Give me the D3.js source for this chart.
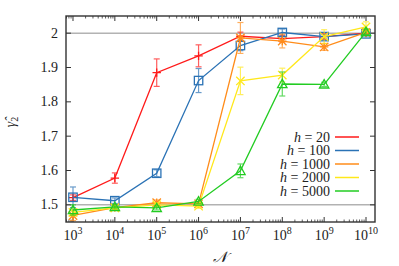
<!DOCTYPE html>
<html>
<head>
<meta charset="utf-8">
<script src="https://cdn.jsdelivr.net/npm/d3@7"></script>
<style>
  body { margin: 0; background: #fff; }
  text { font-family: "Liberation Serif", "DejaVu Serif", serif; fill: #222; }
</style>
</head>
<body>
<div id="chart"></div>
<script>
// data
const exponents = [3, 4, 5, 6, 7, 8, 9, 10]
const hLabels = ["20", "100", "1000", "2000", "5000"]
const h20 = [1.521, 1.578, 1.885, 1.934, 1.991, 1.984, 1.99, 2.0]
const h20err = [0.008, 0.015, 0.04, 0.032, 0.012, 0.01, 0.008, 0.006]
const h100 = [1.522, 1.512, 1.592, 1.862, 1.964, 2.002, 1.99, 1.998]
const h100err = [0.03, 0.008, 0.01, 0.035, 0.015, 0.01, 0.006, 0.006]
const h1000 = [1.469, 1.492, 1.506, 1.503, 1.986, 1.977, 1.96, 2.002]
const h1000err = [0.015, 0.008, 0.008, 0.006, 0.045, 0.02, 0.01, 0.008]
const h2000 = [1.478, 1.491, 1.5, 1.496, 1.861, 1.878, 1.99, 2.018]
const h2000err = [0.01, 0.006, 0.006, 0.006, 0.04, 0.02, 0.02, 0.015]
const h5000 = [1.485, 1.494, 1.491, 1.51, 1.599, 1.852, 1.851, 2.004]
const h5000err = [0.015, 0.006, 0.006, 0.006, 0.02, 0.035, 0.006, 0.008]
const yTicks = [1.5, 1.6, 1.7, 1.8, 1.9, 2]

const colors = ["#ff1a1a", "#2a72b5", "#ff8c1a", "#ffe81a", "#22cc22"]
const markers = ["plus", "square", "star", "cross", "triangle"]
const seriesVals = [h20, h100, h1000, h2000, h5000]
const seriesErr = [h20err, h100err, h1000err, h2000err, h5000err]

const w = 399, h = 266
const margin = {top: 16, right: 24, bottom: 44, left: 66}
const innerW = w - margin.left - margin.right
const innerH = h - margin.top - margin.bottom

const svg = d3.select("#chart").append("svg")
  .attr("width", w).attr("height", h)
const g = svg.append("g")
  .attr("transform", `translate(${margin.left},${margin.top})`)

const x = d3.scaleLog()
  .domain([Math.pow(10, 2.833), Math.pow(10, 10.215)])
  .range([0, innerW])
const y = d3.scaleLinear()
  .domain([1.45, 2.05])
  .range([innerH, 0])

// reference lines
g.selectAll(".ref").data([1.5, 2]).enter().append("line")
  .attr("x1", 0).attr("x2", innerW)
  .attr("y1", d => y(d)).attr("y2", d => y(d))
  .attr("stroke", "#8c8c8c").attr("stroke-width", 1)

// ticks, inward, on all sides
const majors = exponents.map(e => Math.pow(10, e))
const minors = []
for (let e = 2; e <= 10; e++) {
  for (let m = 2; m <= 9; m++) {
    const v = m * Math.pow(10, e)
    if (v > x.domain()[0] && v < x.domain()[1]) minors.push(v)
  }
}
const tickColor = "#333"
function vTicks(vals, len, width) {
  ;[[innerH, -1], [0, 1]].forEach(([yy, dir]) => {
    g.append("g").selectAll("line").data(vals).enter().append("line")
      .attr("x1", d => x(d)).attr("x2", d => x(d))
      .attr("y1", yy).attr("y2", yy + dir * len)
      .attr("stroke", tickColor).attr("stroke-width", width)
  })
}
vTicks(majors, 5, 1)
vTicks(minors, 2.5, 0.8)
;[[0, 1], [innerW, -1]].forEach(([xx, dir]) => {
  g.append("g").selectAll("line").data(yTicks).enter().append("line")
    .attr("x1", xx).attr("x2", xx + dir * 5)
    .attr("y1", d => y(d)).attr("y2", d => y(d))
    .attr("stroke", tickColor).attr("stroke-width", 1)
})

// tick labels
const xl = g.append("g").selectAll("text").data(exponents).enter().append("text")
  .attr("x", d => x(Math.pow(10, d)))
  .attr("y", innerH + 18)
  .attr("text-anchor", "middle")
  .attr("font-size", 14)
xl.append("tspan").text("10")
xl.append("tspan").attr("dy", -6).attr("font-size", 10).text(d => d)

g.append("g").selectAll("text").data(yTicks).enter().append("text")
  .attr("x", -8)
  .attr("y", d => y(d) + 4.5)
  .attr("text-anchor", "end")
  .attr("font-size", 14)
  .text(d => d === 2 ? "2" : d.toFixed(1))

// axis titles
svg.append("text")
  .attr("x", 220).attr("y", 262)
  .attr("text-anchor", "middle")
  .attr("font-size", 15)
  .attr("font-style", "italic")
  .text("\u{1D4A9}")
const yl = svg.append("text")
  .attr("transform", "translate(15,122) rotate(-90)")
  .attr("text-anchor", "middle")
  .attr("font-size", 14)
  .attr("font-style", "italic")
yl.append("tspan").text("\u03B3\u0302")
yl.append("tspan").attr("dy", 3).attr("font-size", 10).attr("font-style", "normal").text("2")

// marker drawing
function drawMarker(sel, type, color) {
  const s = 4.2
  if (type === "plus") {
    sel.append("path").attr("d", `M${-s},0H${s}M0,${-s}V${s}`)
  } else if (type === "cross") {
    sel.append("path").attr("d", `M${-s},${-s}L${s},${s}M${-s},${s}L${s},${-s}`)
  } else if (type === "star") {
    sel.append("path").attr("d", `M${-s},0H${s}M0,${-s}V${s}M${-s},${-s}L${s},${s}M${-s},${s}L${s},${-s}`)
  } else if (type === "square") {
    sel.append("rect").attr("x", -s).attr("y", -s).attr("width", 2 * s).attr("height", 2 * s)
      .attr("fill", "none")
  } else if (type === "triangle") {
    sel.append("path").attr("d", `M0,${-s - 0.5}L${s + 0.5},${s - 0.5}H${-s - 0.5}Z`)
      .attr("fill", "none")
  }
  sel.selectAll("path,rect").attr("stroke", color).attr("stroke-width", 1.3)
}

const line = d3.line()
  .x(d => x(Math.pow(10, d[0])))
  .y(d => y(d[1]))

seriesVals.forEach((vals, i) => {
  const pts = exponents.map((e, j) => [e, vals[j], seriesErr[i][j]])
  const sg = g.append("g")
  // error bars
  const eb = sg.selectAll(".err").data(pts).enter().append("g")
    .attr("stroke", colors[i]).attr("stroke-width", 1.2).attr("opacity", 0.7)
  eb.append("line")
    .attr("x1", d => x(Math.pow(10, d[0]))).attr("x2", d => x(Math.pow(10, d[0])))
    .attr("y1", d => y(d[1] - d[2])).attr("y2", d => y(d[1] + d[2]))
  eb.append("line")
    .attr("x1", d => x(Math.pow(10, d[0])) - 3).attr("x2", d => x(Math.pow(10, d[0])) + 3)
    .attr("y1", d => y(d[1] + d[2])).attr("y2", d => y(d[1] + d[2]))
  eb.append("line")
    .attr("x1", d => x(Math.pow(10, d[0])) - 3).attr("x2", d => x(Math.pow(10, d[0])) + 3)
    .attr("y1", d => y(d[1] - d[2])).attr("y2", d => y(d[1] - d[2]))
  sg.append("path").datum(pts)
    .attr("d", line)
    .attr("fill", "none")
    .attr("stroke", colors[i])
    .attr("stroke-width", 1.3)
  sg.selectAll(".mk").data(pts).enter().append("g")
    .attr("transform", d => `translate(${x(Math.pow(10, d[0]))},${y(d[1])})`)
    .each(function() { drawMarker(d3.select(this), markers[i], colors[i]) })
})

// frame
g.append("rect")
  .attr("width", innerW).attr("height", innerH)
  .attr("fill", "none").attr("stroke", "#333").attr("stroke-width", 1.4)

// legend
const leg = g.append("g").selectAll("g").data(hLabels).enter().append("g")
  .attr("transform", (d, i) => `translate(0,${121 + i * 13.5})`)
const lt = leg.append("text")
  .attr("x", 264).attr("y", 4.5)
  .attr("text-anchor", "end")
  .attr("font-size", 14)
lt.append("tspan").attr("font-style", "italic").text("h")
lt.append("tspan").text(d => " = " + d)
leg.append("line")
  .attr("x1", 269).attr("x2", 293)
  .attr("y1", 0).attr("y2", 0)
  .attr("stroke", (d, i) => colors[i])
  .attr("stroke-width", 1.5)
</script>
</body>
</html>
